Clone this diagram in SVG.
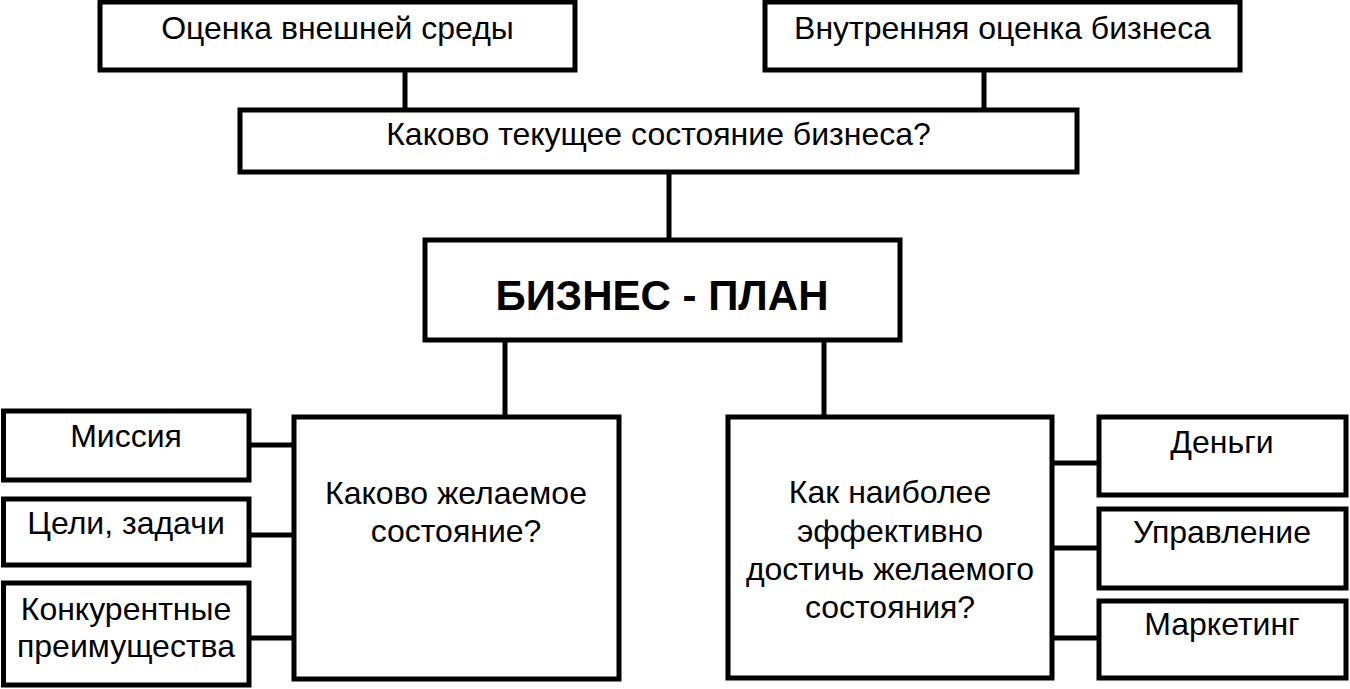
<svg xmlns="http://www.w3.org/2000/svg" width="1350" height="689" viewBox="0 0 1350 689">
<style>
.box{fill:#fff;stroke:#000;stroke-width:5}
.ln{stroke:#000;stroke-width:5;fill:none}
.t{font-family:"Liberation Sans",Arial,sans-serif;font-size:32px;fill:#000;text-anchor:middle}
.b{font-family:"Liberation Sans",Arial,sans-serif;font-size:42px;font-weight:bold;fill:#000;text-anchor:middle}
</style>
<rect width="1350" height="689" fill="#fff"/>
<g id="connectors">
<line class="ln" x1="405" y1="70" x2="405" y2="110"/>
<line class="ln" x1="984" y1="70" x2="984" y2="110"/>
<line class="ln" x1="669" y1="172" x2="669" y2="240"/>
<line class="ln" x1="505" y1="340" x2="505" y2="417"/>
<line class="ln" x1="824" y1="340" x2="824" y2="417"/>
<line class="ln" x1="249" y1="445" x2="294" y2="445"/>
<line class="ln" x1="249" y1="535" x2="294" y2="535"/>
<line class="ln" x1="249" y1="638" x2="294" y2="638"/>
<line class="ln" x1="1052" y1="463" x2="1099" y2="463"/>
<line class="ln" x1="1052" y1="548" x2="1099" y2="548"/>
<line class="ln" x1="1052" y1="638" x2="1099" y2="638"/>
</g>
<g id="external">
<rect class="box" x="100" y="2" width="475" height="68"/>
<text class="t" x="337.5" y="39">Оценка внешней среды</text>
</g>
<g id="internal">
<rect class="box" x="765" y="2" width="475" height="68"/>
<text class="t" x="1002.5" y="39">Внутренняя оценка бизнеса</text>
</g>
<g id="current">
<rect class="box" x="240" y="110" width="837" height="62"/>
<text class="t" x="658.5" y="145">Каково текущее состояние бизнеса?</text>
</g>
<g id="plan">
<rect class="box" x="425" y="240" width="475" height="100"/>
<text class="b" x="662" y="310">БИЗНЕС - ПЛАН</text>
</g>
<g id="desired">
<rect class="box" x="294" y="417" width="325" height="262"/>
<text class="t" x="456" y="504">Каково желаемое</text>
<text class="t" x="456" y="542">состояние?</text>
</g>
<g id="how">
<rect class="box" x="728" y="417" width="324" height="261"/>
<text class="t" x="890" y="503">Как наиболее</text>
<text class="t" x="890" y="542">эффективно</text>
<text class="t" x="890" y="580">достичь желаемого</text>
<text class="t" x="890" y="618">состояния?</text>
</g>
<g id="mission">
<rect class="box" x="3.5" y="411" width="245.5" height="69"/>
<text class="t" x="126" y="447">Миссия</text>
</g>
<g id="goals">
<rect class="box" x="3.5" y="499" width="245.5" height="66"/>
<text class="t" x="126" y="534">Цели, задачи</text>
</g>
<g id="advantages">
<rect class="box" x="3.5" y="583" width="245.5" height="102"/>
<text class="t" x="126" y="620">Конкурентные</text>
<text class="t" x="126" y="657">преимущества</text>
</g>
<g id="money">
<rect class="box" x="1099" y="417" width="247" height="78"/>
<text class="t" x="1222" y="453">Деньги</text>
</g>
<g id="management">
<rect class="box" x="1099" y="509" width="247" height="79"/>
<text class="t" x="1222" y="543">Управление</text>
</g>
<g id="marketing">
<rect class="box" x="1099" y="601" width="247" height="77"/>
<text class="t" x="1222" y="635">Маркетинг</text>
</g>
</svg>
